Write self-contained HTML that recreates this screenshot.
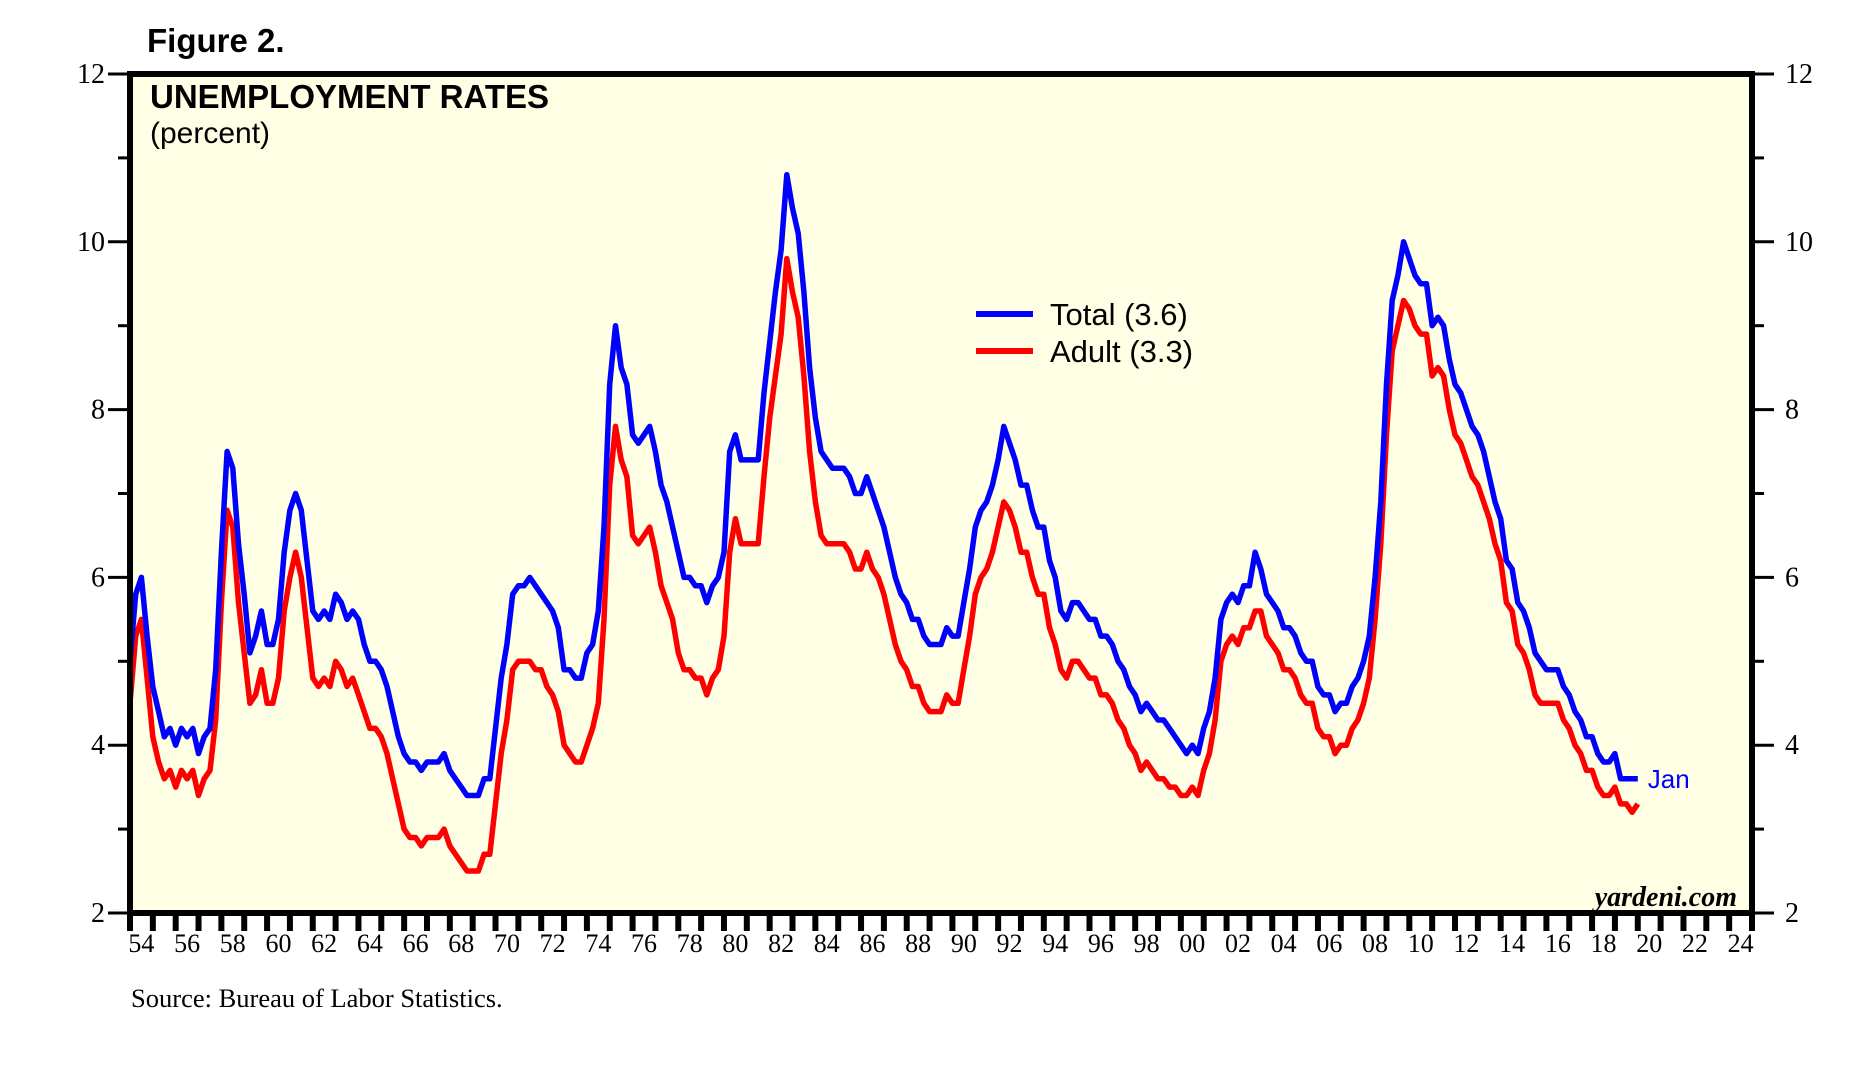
<!DOCTYPE html>
<html><head><meta charset="utf-8"><style>
body{margin:0;background:#fff;}
svg{display:block;}
.serif{font-family:"Liberation Serif",serif;}
.sans{font-family:"Liberation Sans",sans-serif;}
</style></head><body>
<svg id="chart" width="1865" height="1079" viewBox="0 0 1865 1079">
<text x="147" y="52" class="sans" font-size="33" font-weight="bold">Figure 2.</text>
<rect x="130" y="74" width="1622" height="839" fill="#FFFFE6"/>
<g id="ticks"></g>
<g id="series"></g>
<rect x="130" y="74" width="1622" height="839" fill="none" stroke="#000" stroke-width="6"/>
<text x="150" y="108" class="sans" font-size="33" font-weight="bold">UNEMPLOYMENT RATES</text>
<text x="150" y="143" class="sans" font-size="30">(percent)</text>
<line x1="976" y1="314" x2="1033" y2="314" stroke="#0000FF" stroke-width="6"/>
<text x="1050" y="325" class="sans" font-size="31">Total (3.6)</text>
<line x1="976" y1="351" x2="1033" y2="351" stroke="#FF0000" stroke-width="6"/>
<text x="1050" y="362" class="sans" font-size="31">Adult (3.3)</text>
<text x="1737" y="906" class="serif" font-size="28" font-weight="bold" font-style="italic" text-anchor="end">yardeni.com</text>
<text x="131" y="1007" class="serif" font-size="26.5">Source: Bureau of Labor Statistics.</text>
</svg>
<script>
const total = [
5.0,5.8,6.0,5.3, 4.7,4.4,4.1,4.2, 4.0,4.2,4.1,4.2, 3.9,4.1,4.2,4.9,
6.3,7.5,7.3,6.4, 5.8,5.1,5.3,5.6, 5.2,5.2,5.5,6.3, 6.8,7.0,6.8,6.2,
5.6,5.5,5.6,5.5, 5.8,5.7,5.5,5.6, 5.5,5.2,5.0,5.0, 4.9,4.7,4.4,4.1,
3.9,3.8,3.8,3.7, 3.8,3.8,3.8,3.9, 3.7,3.6,3.5,3.4, 3.4,3.4,3.6,3.6,
4.2,4.8,5.2,5.8, 5.9,5.9,6.0,5.9, 5.8,5.7,5.6,5.4, 4.9,4.9,4.8,4.8,
5.1,5.2,5.6,6.6, 8.3,9.0,8.5,8.3, 7.7,7.6,7.7,7.8, 7.5,7.1,6.9,6.6,
6.3,6.0,6.0,5.9, 5.9,5.7,5.9,6.0, 6.3,7.5,7.7,7.4, 7.4,7.4,7.4,8.2,
8.8,9.4,9.9,10.8, 10.4,10.1,9.4,8.5, 7.9,7.5,7.4,7.3, 7.3,7.3,7.2,7.0,
7.0,7.2,7.0,6.8, 6.6,6.3,6.0,5.8, 5.7,5.5,5.5,5.3, 5.2,5.2,5.2,5.4,
5.3,5.3,5.7,6.1, 6.6,6.8,6.9,7.1, 7.4,7.8,7.6,7.4, 7.1,7.1,6.8,6.6,
6.6,6.2,6.0,5.6, 5.5,5.7,5.7,5.6, 5.5,5.5,5.3,5.3, 5.2,5.0,4.9,4.7,
4.6,4.4,4.5,4.4, 4.3,4.3,4.2,4.1, 4.0,3.9,4.0,3.9, 4.2,4.4,4.8,5.5,
5.7,5.8,5.7,5.9, 5.9,6.3,6.1,5.8, 5.7,5.6,5.4,5.4, 5.3,5.1,5.0,5.0,
4.7,4.6,4.6,4.4, 4.5,4.5,4.7,4.8, 5.0,5.3,6.0,6.9, 8.3,9.3,9.6,10.0,
9.8,9.6,9.5,9.5, 9.0,9.1,9.0,8.6, 8.3,8.2,8.0,7.8, 7.7,7.5,7.2,6.9,
6.7,6.2,6.1,5.7, 5.6,5.4,5.1,5.0, 4.9,4.9,4.9,4.7, 4.6,4.4,4.3,4.1,
4.1,3.9,3.8,3.8, 3.9,3.6,3.6,3.6, 3.6];
const adult = [
4.5,5.3,5.5,4.8, 4.1,3.8,3.6,3.7, 3.5,3.7,3.6,3.7, 3.4,3.6,3.7,4.3,
5.7,6.8,6.6,5.7, 5.1,4.5,4.6,4.9, 4.5,4.5,4.8,5.6, 6.0,6.3,6.0,5.4,
4.8,4.7,4.8,4.7, 5.0,4.9,4.7,4.8, 4.6,4.4,4.2,4.2, 4.1,3.9,3.6,3.3,
3.0,2.9,2.9,2.8, 2.9,2.9,2.9,3.0, 2.8,2.7,2.6,2.5, 2.5,2.5,2.7,2.7,
3.3,3.9,4.3,4.9, 5.0,5.0,5.0,4.9, 4.9,4.7,4.6,4.4, 4.0,3.9,3.8,3.8,
4.0,4.2,4.5,5.5, 7.1,7.8,7.4,7.2, 6.5,6.4,6.5,6.6, 6.3,5.9,5.7,5.5,
5.1,4.9,4.9,4.8, 4.8,4.6,4.8,4.9, 5.3,6.3,6.7,6.4, 6.4,6.4,6.4,7.2,
7.9,8.4,8.9,9.8, 9.4,9.1,8.4,7.5, 6.9,6.5,6.4,6.4, 6.4,6.4,6.3,6.1,
6.1,6.3,6.1,6.0, 5.8,5.5,5.2,5.0, 4.9,4.7,4.7,4.5, 4.4,4.4,4.4,4.6,
4.5,4.5,4.9,5.3, 5.8,6.0,6.1,6.3, 6.6,6.9,6.8,6.6, 6.3,6.3,6.0,5.8,
5.8,5.4,5.2,4.9, 4.8,5.0,5.0,4.9, 4.8,4.8,4.6,4.6, 4.5,4.3,4.2,4.0,
3.9,3.7,3.8,3.7, 3.6,3.6,3.5,3.5, 3.4,3.4,3.5,3.4, 3.7,3.9,4.3,5.0,
5.2,5.3,5.2,5.4, 5.4,5.6,5.6,5.3, 5.2,5.1,4.9,4.9, 4.8,4.6,4.5,4.5,
4.2,4.1,4.1,3.9, 4.0,4.0,4.2,4.3, 4.5,4.8,5.5,6.4, 7.7,8.7,9.0,9.3,
9.2,9.0,8.9,8.9, 8.4,8.5,8.4,8.0, 7.7,7.6,7.4,7.2, 7.1,6.9,6.7,6.4,
6.2,5.7,5.6,5.2, 5.1,4.9,4.6,4.5, 4.5,4.5,4.5,4.3, 4.2,4.0,3.9,3.7,
3.7,3.5,3.4,3.4, 3.5,3.3,3.3,3.2, 3.3];
const startYear = 1954;
const yTicks = [2,4,6,8,10,12];
const xLabels = ["54","56","58","60","62","64","66","68","70","72","74","76","78","80","82","84","86","88","90","92","94","96","98","00","02","04","06","08","10","12","14","16","18","20","22","24"];

const L=130,R=1752,T=74,B=913,X0=1954,X1=2025,Y0=2,Y1=12;
const sx=y=>L+(y-X0)/(X1-X0)*(R-L);
const sy=v=>B-(v-Y0)/(Y1-Y0)*(B-T);
const NS='http://www.w3.org/2000/svg';
const tg=document.getElementById('ticks');
const sg=document.getElementById('series');
function mk(tag,attrs,parent){const e=document.createElementNS(NS,tag);for(const k in attrs)e.setAttribute(k,attrs[k]);parent.appendChild(e);return e;}

for(let v=Y0;v<=Y1;v++){
  const y=sy(v), len=(v%2===0)?22:12;
  const a=mk('line',{x1:L-len,y1:y,x2:L,y2:y,stroke:'#000','stroke-width':3},tg);
  
  
  const b=mk('line',{x1:R,y1:y,x2:R+len,y2:y,stroke:'#000','stroke-width':3},tg);
  
  
}
yTicks.forEach(v=>{
  const t=mk('text',{x:L-25,y:sy(v)+9,'text-anchor':'end','font-size':28,class:'serif'},tg);
  t.textContent=v;
  
  
  const t2=mk('text',{x:R+33,y:sy(v)+9,'font-size':28,class:'serif'},tg);
  t2.textContent=v;
  
  
});
for(let yr=X0;yr<=X1;yr++){
  const t=mk('line',{x1:sx(yr),y1:B,x2:sx(yr),y2:B+18,stroke:'#000','stroke-width':6},tg);
  
  
}
xLabels.forEach((lab,i)=>{
  const t=mk('text',{x:sx(1954+2*i+0.5),y:952,'text-anchor':'middle','font-size':26,class:'serif'},tg);
  t.textContent=lab;
  
  
});
function line(arr,color,name){
  const d=arr.map((v,i)=>(i?'L':'M')+sx(startYear+i/4).toFixed(1)+' '+sy(v).toFixed(1)).join(' ');
  const p=mk('path',{d:d,fill:'none',stroke:color,'stroke-width':5.5,'stroke-linejoin':'round'},sg);
  
  
}
line(adult,'#FF0000','adult-line');
line(total,'#0000FF','total-line');
const jx=sx(startYear+(total.length-1)/4)+10, jy=sy(total[total.length-1])+9;
const jan=mk('text',{x:jx,y:jy,fill:'#0000FF','font-size':26,class:'sans'},sg);
jan.textContent='Jan';


</script>
</body></html>
